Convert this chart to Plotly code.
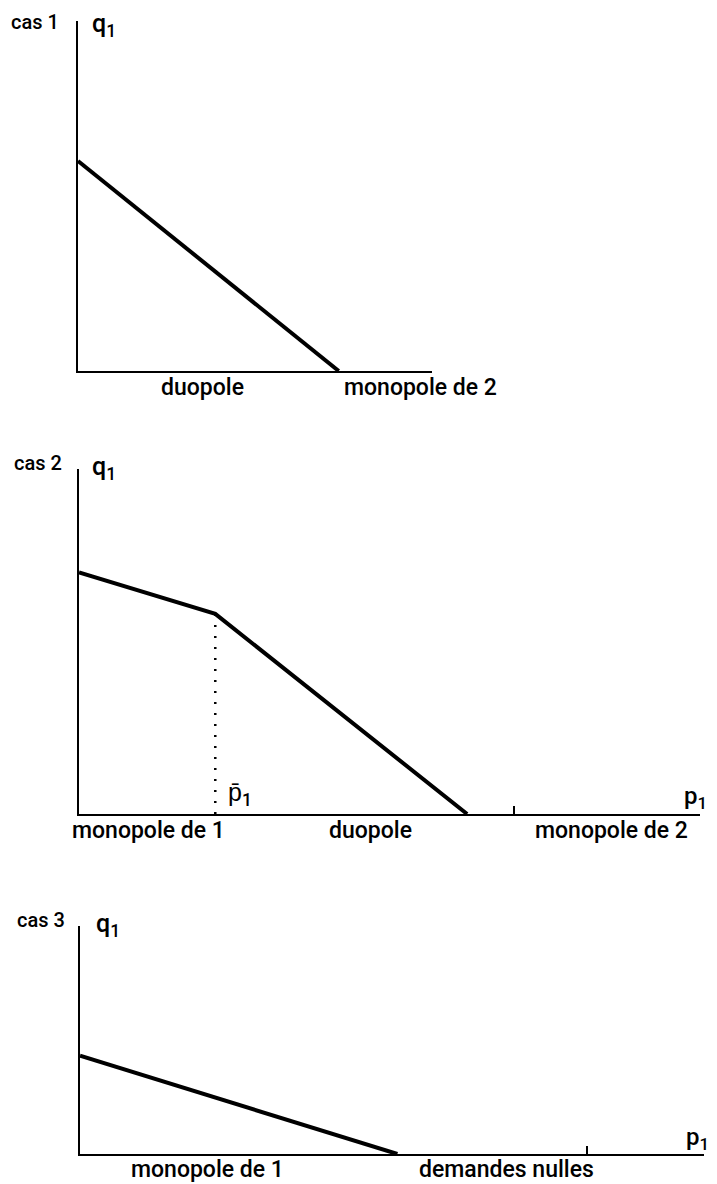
import plotly.graph_objects as go

# ---------------- data ----------------
# panel 1 (cas 1)
p_cas1 = [0.0, 7.45]
q_cas1 = [6.0, 0.0]
ticks_cas1 = [10.1]
# panel 2 (cas 2)
p_cas2 = [0.0, 3.95, 11.25]
q_cas2 = [7.0, 5.8, 0.0]
pbar_cas2 = [3.95, 3.95]
pbar_q_cas2 = [5.8, 0.0]
ticks_cas2 = [12.6, 18.0]
# panel 3 (cas 3)
p_cas3 = [0.0, 9.2]
q_cas3 = [2.85, 0.0]
ticks_cas3 = [14.7, 18.1]

case_titles = ["cas 1", "cas 2", "cas 3"]
regimes_cas1 = ["duopole", "monopole de 2"]
regimes_cas2 = ["monopole de 1", "duopole", "monopole de 2"]
regimes_cas3 = ["monopole de 1", "demandes nulles"]
y_label = "q<sub>1</sub>"
x_label = "p<sub>1</sub>"
pbar_label = "p\u0304<sub>1</sub>"

# ---------------- layout helpers (pixels of the 717x1184 window) ----------------
PAGE_W, PAGE_H = 717, 1184
OFF = 8  # default body margin of the html page
W, H = PAGE_W - OFF, PAGE_H - OFF
FONT = "Roboto, Liberation Sans, Arial, sans-serif"
WEIGHT = 500

def px(x):
    return (x - OFF) / W

def py(y):
    return 1 - (y - OFF) / H

# panel boxes: origin pixel, pixels per unit, axis extents in data units
panels = [
    dict(ox=78, oy=371, s=35.0, xmax=10.1, ymax=10.0),
    dict(ox=79, oy=814, s=34.5, xmax=18.0, ymax=10.0),
    dict(ox=80, oy=1154, s=34.5, xmax=18.1, ymax=6.6),
]
tickvals = [ticks_cas1, ticks_cas2, ticks_cas3]

fig = go.Figure()
series = [(p_cas1, q_cas1), (p_cas2, q_cas2), (p_cas3, q_cas3)]
for i, (pp, qq) in enumerate(series):
    n = "" if i == 0 else str(i + 1)
    fig.add_trace(go.Scatter(x=pp, y=qq, mode="lines",
                             line=dict(color="black", width=4),
                             xaxis="x" + n, yaxis="y" + n,
                             showlegend=False, hoverinfo="skip",
                             cliponaxis=False))

fig.add_trace(go.Scatter(x=pbar_cas2, y=pbar_q_cas2, mode="lines",
                         line=dict(color="black", width=2.5, dash="2px,9px"),
                         xaxis="x2", yaxis="y2", showlegend=False,
                         hoverinfo="skip"))

layout = dict(width=W, height=H, margin=dict(l=0, r=0, t=0, b=0),
              paper_bgcolor="white", plot_bgcolor="white",
              showlegend=False)

for i, pnl in enumerate(panels):
    n = "" if i == 0 else str(i + 1)
    x0 = pnl["ox"]
    x1 = pnl["ox"] + pnl["xmax"] * pnl["s"]
    y0 = pnl["oy"]
    y1 = pnl["oy"] - pnl["ymax"] * pnl["s"]
    layout["xaxis" + n] = dict(domain=[px(x0), px(x1)], range=[0, pnl["xmax"]],
                               anchor="y" + n, showgrid=False, zeroline=False,
                               showline=True, linecolor="black", linewidth=2,
                               ticks="inside", ticklen=8, tickwidth=2,
                               tickcolor="black", tickvals=tickvals[i],
                               showticklabels=False, fixedrange=True)
    layout["yaxis" + n] = dict(domain=[py(y0), py(y1)], range=[0, pnl["ymax"]],
                               anchor="x" + n, showgrid=False, zeroline=False,
                               showline=True, linecolor="black", linewidth=2,
                               ticks="inside", ticklen=5, tickwidth=2,
                               tickcolor="black", tickvals=[pnl["ymax"]],
                               showticklabels=False, fixedrange=True)

fig.update_layout(**layout)

def ann(text, x, y, size=22, xanchor="left"):
    fig.add_annotation(text=text, x=px(x), y=py(y), xref="paper", yref="paper",
                       xanchor=xanchor, yanchor="middle", showarrow=False,
                       font=dict(family=FONT, size=size, color="black",
                                 weight=WEIGHT))

# case titles and q1 labels
ann(case_titles[0], 9, 22, size=20)
ann(case_titles[1], 12, 463, size=20)
ann(case_titles[2], 15, 920, size=20)
ann(y_label, 90, 25, size=25)
ann(y_label, 90, 468, size=25)
ann(y_label, 94, 925, size=25)

# regime labels
ann(regimes_cas1[0], 202, 387, size=23, xanchor="center")
ann(regimes_cas1[1], 420, 387, size=23, xanchor="center")
ann(regimes_cas2[0], 148, 830, size=23, xanchor="center")
ann(regimes_cas2[1], 370, 830, size=23, xanchor="center")
ann(regimes_cas2[2], 611, 830, size=23, xanchor="center")
ann(regimes_cas3[0], 207, 1169, size=23, xanchor="center")
ann(regimes_cas3[1], 506, 1169, size=23, xanchor="center")

# price labels
ann(pbar_label, 226, 794, size=25)
ann(x_label, 682, 797, size=24)
ann(x_label, 684, 1138, size=24)

fig.write_html("out.html")
